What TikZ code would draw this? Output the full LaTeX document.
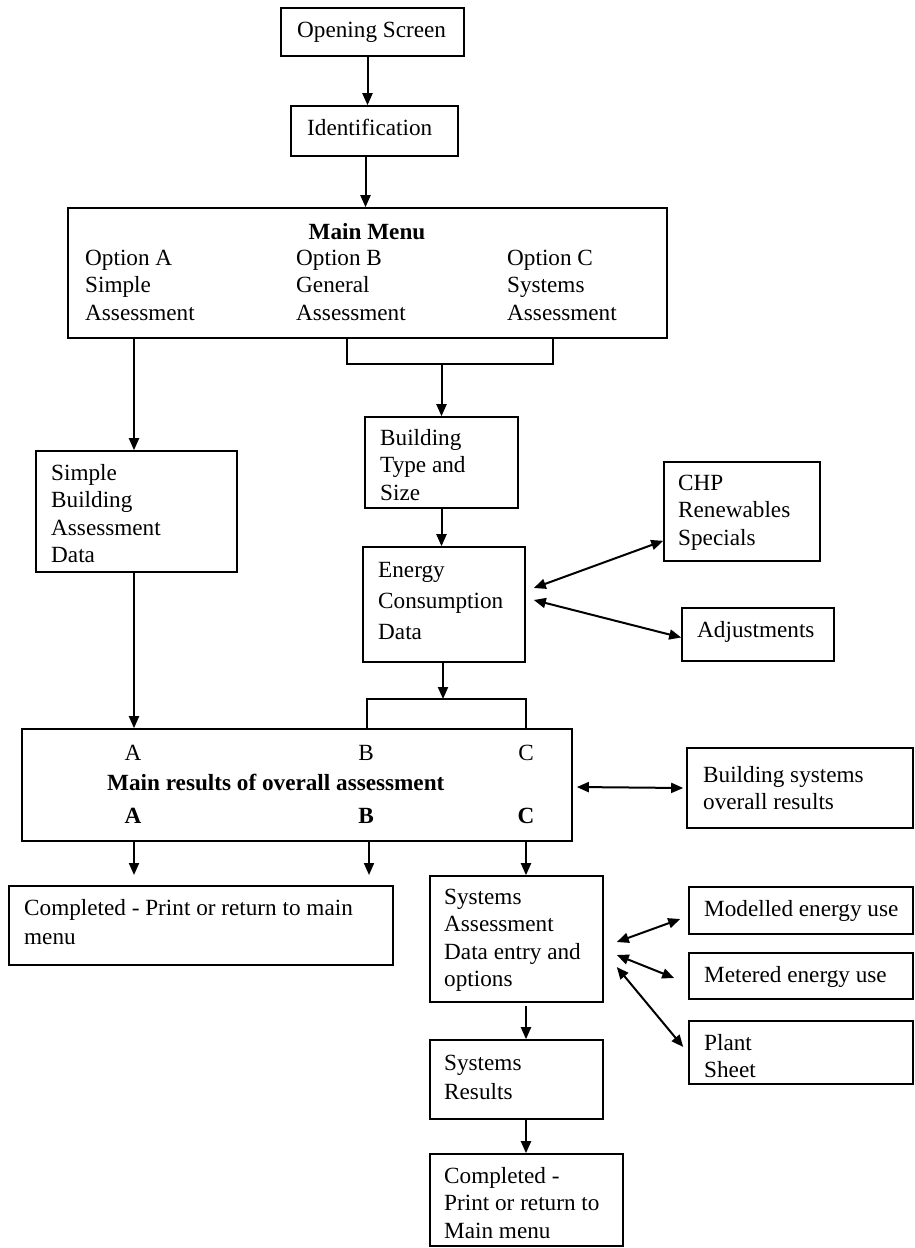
\documentclass[tikz,border=0pt]{standalone}
\usepackage{fontspec}
\setmainfont{Liberation Serif}
\usetikzlibrary{arrows.meta,calc,fit}
\begin{document}
\begin{tikzpicture}[x=1pt,y=-1pt,
  every node/.style={font=\fontsize{23.2}{27.5}\selectfont},
  box/.style={draw, line width=1.6pt, inner sep=0pt, rectangle},
  txt/.style={align=left, inner sep=0pt, anchor=north west},
  ctxt/.style={align=center, inner sep=0pt, anchor=north},
  arr/.style={line width=2pt, -{Triangle[length=12pt,width=10pt]}},
  darr/.style={line width=2pt, {Triangle[length=12pt,width=10pt]}-{Triangle[length=12pt,width=10pt]}},
  brk/.style={line width=1.2pt}]
\useasboundingbox (0,0) rectangle (914,1248);

% boxes
\node[box, fit={(281,8) (464,56)}] (open) {};
\node[box, fit={(291,106) (458,156)}] (ident) {};
\node[box, fit={(68,208) (667,338)}] (main) {};
\node[box, fit={(36,451) (237,572)}] (simple) {};
\node[box, fit={(365,417) (518,508)}] (btype) {};
\node[box, fit={(363,547) (525,662)}] (energy) {};
\node[box, fit={(664,462) (820,561)}] (chp) {};
\node[box, fit={(682,608) (834,661)}] (adj) {};
\node[box, fit={(22,729) (572,841)}] (results) {};
\node[box, fit={(687,748) (913,828)}] (bsys) {};
\node[box, fit={(9,886) (393,965)}] (comp1) {};
\node[box, fit={(430,876) (603,1002)}] (sysass) {};
\node[box, fit={(430,1040) (603,1119)}] (sysres) {};
\node[box, fit={(430,1154) (623,1246)}] (comp2) {};
\node[box, fit={(689,887) (913,934)}] (model) {};
\node[box, fit={(689,953) (913,999)}] (meter) {};
\node[box, fit={(689,1021) (913,1084)}] (plant) {};

% texts
\node[txt] (topen) at (297,17.75) {\strut Opening Screen};
\node[txt] (tident) at (307,115.75) {\strut Identification};
\node[ctxt] (tmain) at (367,219.75) {\strut\bfseries Main Menu};
\node[txt] (toa) at (85,245.75) {\strut Option A\\Simple\\Assessment};
\node[txt] (tob) at (296,245.75) {\strut Option B\\General\\Assessment};
\node[txt] (toc) at (507,245.75) {\strut Option C\\Systems\\Assessment};
\node[txt] (tsimple) at (51,460.75) {\strut Simple\\Building\\Assessment\\Data};
\node[txt] (tbtype) at (380,425.75) {\strut Building\\Type and\\Size};
\node[txt] (tenergy) at (378,557.75) {\strut Energy\\[3.5pt]Consumption\\[3.5pt]Data};
\node[txt] (tchp) at (678,470.75) {\strut CHP\\Renewables\\Specials};
\node[txt] (tadj) at (697,617.75) {\strut Adjustments};
\node[ctxt] (ra1) at (133,740.75) {\strut A};
\node[ctxt] (rb1) at (366,740.75) {\strut B};
\node[ctxt] (rc1) at (526,740.75) {\strut C};
\node[txt] (tres) at (107,770.75) {\strut\bfseries Main results of overall assessment};
\node[ctxt] (ra2) at (133,803.75) {\strut\bfseries A};
\node[ctxt] (rb2) at (366,803.75) {\strut\bfseries B};
\node[ctxt] (rc2) at (526,803.75) {\strut\bfseries C};
\node[txt] (tbsys) at (703,762.75) {\strut Building systems\\overall results};
\node[txt] (tcomp1) at (24,895.75) {\strut Completed - Print or return to main\\[1.5pt]menu};
\node[txt] (tsysass) at (444,884.75) {\strut Systems\\Assessment\\Data entry and\\options};
\node[txt] (tsysres) at (444,1050.75) {\strut Systems\\[1.5pt]Results};
\node[txt] (tcomp2) at (444,1163.75) {\strut Completed -\\Print or return to\\Main menu};
\node[txt] (tmodel) at (704,896.75) {\strut Modelled energy use};
\node[txt] (tmeter) at (704,962.75) {\strut Metered energy use};
\node[txt] (tplant) at (704,1030.75) {\strut Plant\\Sheet};

% connectors top
\draw[arr] ([xshift=-5pt]open.south) -- ([xshift=-5pt]open.south |- ident.north);
\draw[arr] ([xshift=-9pt]ident.south) -- ([xshift=-9pt]ident.south |- main.north);
\draw[arr] ([xshift=-2.5pt]simple.north |- main.south) -- ([xshift=-2.5pt]simple.north);

% bracket under main menu
\coordinate (b1l) at (347,364);
\coordinate (b1r) at (553,364);
\draw[brk] (b1l |- main.south) -- (b1l) -- (b1r) -- (b1r |- main.south);
\draw[arr] (btype.north |- b1l) -- (btype.north);
\draw[arr] (btype.south) -- (btype.south |- energy.north);

% side arrows of energy
\coordinate (e1) at ($(energy.east)+(8,-16.5)$);
\coordinate (e2) at ($(energy.east)+(8,-4.5)$);
\draw[darr] (e1) -- ([yshift=21pt]chp.south west);
\draw[darr] (e2) -- ([yshift=-3pt]adj.west);

% bracket above results
\coordinate (b2l) at (367,699);
\coordinate (b2r) at (526,699);
\draw[arr] ([xshift=-1pt]energy.south) -- ([xshift=-1pt]energy.south |- b2l);
\draw[brk] (b2l |- results.north) -- (b2l) -- (b2r) -- (b2r |- results.north);

\draw[arr] ([xshift=-2.5pt]simple.south) -- ([xshift=-2.5pt]simple.south |- results.north);
\draw[darr] ([xshift=4pt,yshift=-2pt]results.east) -- ([xshift=-3pt]bsys.west);

% arrows below results
\coordinate (d1) at (134,875);
\coordinate (d2) at (369,875);
\draw[arr] (d1 |- results.south) -- (d1);
\draw[arr] (d2 |- results.south) -- (d2);
\draw[arr] (rc2.south |- results.south) -- (rc2.south |- sysass.north);

% systems column
\coordinate (s1) at (526,1006);
\draw[arr] (s1) -- (s1 |- sysres.north);
\draw[arr] (s1 |- sysres.south) -- (s1 |- comp2.north);

\coordinate (sa1) at ($(sysass.east)+(13,3)$);
\coordinate (sa2) at ($(sysass.east)+(13,16)$);
\coordinate (sa3) at ($(sysass.east)+(13,28)$);
\draw[darr] (sa1) -- ($(model.west)+(-8,8.5)$);
\draw[darr] (sa2) -- ($(meter.west)+(-14,2)$);
\draw[darr] (sa3) -- ($(plant.west)+(-5,-5.5)$);
\end{tikzpicture}
\end{document}
